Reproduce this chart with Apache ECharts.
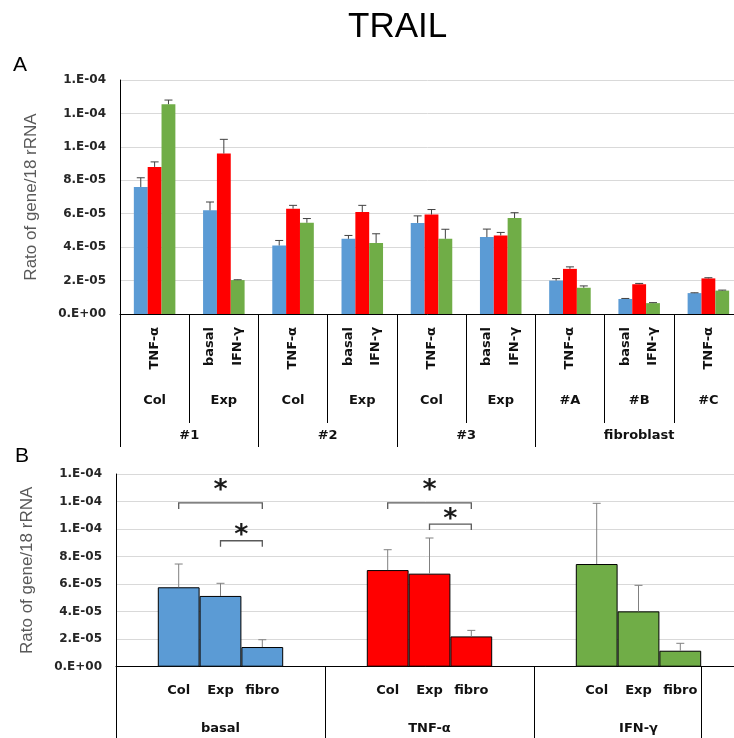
<!DOCTYPE html>
<html>
<head>
<meta charset="utf-8">
<script src="https://cdn.jsdelivr.net/npm/echarts@6/dist/echarts.min.js"></script>
<style>
  html, body { margin: 0; padding: 0; background: #fff; }
  #chart { width: 734px; height: 738px; }
</style>
</head>
<body>
<div id="chart"></div>
<script>
// ---------- Panel A: TRAIL / 18S rRNA per culture and treatment ----------
const treatmentNames = ['basal', 'TNF-α', 'IFN-γ'];
const cultureLabels = ['Col', 'Exp', 'Col', 'Exp', 'Col', 'Exp', '#A', '#B', '#C'];
const donorLabels = ['#1', '#2', '#3', 'fibroblast'];
const donorSpans = [2, 2, 2, 3]; // cultures belonging to each donor

const basalA = [7.6e-5, 6.2e-5, 4.1e-5, 4.5e-5, 5.45e-5, 4.6e-5, 2.0e-5, 0.9e-5, 1.25e-5];
const tnfA   = [8.8e-5, 9.6e-5, 6.3e-5, 6.1e-5, 5.95e-5, 4.7e-5, 2.7e-5, 1.78e-5, 2.13e-5];
const ifnA   = [1.255e-4, 2.03e-5, 5.46e-5, 4.25e-5, 4.5e-5, 5.74e-5, 1.57e-5, 0.65e-5, 1.4e-5];
const basalSdA = [0.55e-5, 0.5e-5, 0.3e-5, 0.2e-5, 0.42e-5, 0.48e-5, 0.12e-5, 0.03e-5, 0.02e-5];
const tnfSdA   = [0.3e-5, 0.85e-5, 0.2e-5, 0.4e-5, 0.3e-5, 0.18e-5, 0.12e-5, 0.05e-5, 0.04e-5];
const ifnSdA   = [0.25e-5, 0.02e-5, 0.25e-5, 0.55e-5, 0.57e-5, 0.32e-5, 0.11e-5, 0.03e-5, 0.03e-5];

// ---------- Panel B: pooled by treatment and cell source ----------
const conditionLabels = ['basal', 'TNF-α', 'IFN-γ'];
const sourceLabels = ['Col', 'Exp', 'fibro'];
const colB   = [5.77e-5, 7.02e-5, 7.46e-5];
const expB   = [5.14e-5, 6.76e-5, 4.02e-5];
const fibroB = [1.43e-5, 2.2e-5, 1.16e-5];
const colSdB   = [1.69e-5, 1.48e-5, 4.41e-5];
const expSdB   = [0.92e-5, 2.59e-5, 1.89e-5];
const fibroSdB = [0.53e-5, 0.44e-5, 0.54e-5];
// [condition, first source, second source, bracket height, asterisk height]
const significance = [
  [0, 0, 2, 1.19e-4, 1.298e-4],
  [0, 1, 2, 9.15e-5, 9.71e-5],
  [1, 0, 2, 1.19e-4, 1.298e-4],
  [1, 1, 2, 1.036e-4, 1.088e-4]
];

const yMax = 1.4e-4;
const yStep = 2e-5;

// ---------- styling ----------
const BLUE = '#5b9bd5', RED = '#ff0000', GREEN = '#70ad47';
const BAR_FRAC = 0.2;              // each bar takes 20% of a category band
const LABEL_FONT = 'DejaVu Sans';
const catText = { fontFamily: LABEL_FONT, fontWeight: 'bold', fontSize: 13, color: '#111' };

function excelExp(v) {
  if (v === 0) return '0.E+00';
  let e = Math.floor(Math.log10(v) + 1e-9);
  let m = Math.round(v / Math.pow(10, e));
  if (m === 10) { m = 1; e += 1; }
  const a = Math.abs(e);
  return m + '.E' + (e < 0 ? '-' : '+') + (a < 10 ? '0' + a : a);
}

function lookup(positions, texts) {
  return function (v) {
    for (let i = 0; i < positions.length; i++) {
      if (Math.abs(positions[i] - v) < 1e-6) return texts[i];
    }
    return '';
  };
}

// rotated treatment labels under panel A: every other slot is labelled
const subPos = [], subText = [];
for (let k = 0; k < cultureLabels.length * 3; k++) {
  if (k % 2 === 1) {
    const g = Math.floor(k / 3), s = k % 3;
    subPos.push(g + 0.5 + (s - 1) * BAR_FRAC);
    subText.push(treatmentNames[s]);
  }
}
// donor spans -> centres and boundaries
const donorCentres = [], donorBounds = [0];
let acc = 0;
donorSpans.forEach(function (n) { donorCentres.push(acc + n / 2); acc += n; donorBounds.push(acc); });

// source labels under every bar of panel B
const srcPos = [], srcText = [];
conditionLabels.forEach(function (c, g) {
  sourceLabels.forEach(function (s, j) { srcPos.push(g + 0.5 + (j - 1) * BAR_FRAC); srcText.push(s); });
});
const lastBarEdge = [conditionLabels.length - 1 + 0.5 + 1.5 * BAR_FRAC];

function errorBars(color, cap) {
  return function (params, api) {
    const cat = api.value(0), val = api.value(1), sd = api.value(2), slot = api.value(3);
    const base = api.coord([cat, val]);
    const top = api.coord([cat, val + sd]);
    const bw = api.size([1, 0])[0];
    const x = base[0] + (slot - 1) * BAR_FRAC * bw;
    return {
      type: 'group',
      children: [
        { type: 'line', shape: { x1: x, y1: base[1], x2: x, y2: top[1] }, style: { stroke: color, lineWidth: 1 } },
        { type: 'line', shape: { x1: x - cap, y1: top[1], x2: x + cap, y2: top[1] }, style: { stroke: color, lineWidth: 1 } }
      ]
    };
  };
}

function errorData(values, sds, slot) {
  return values.map(function (v, i) { return [i, v, sds[i], slot]; });
}

function bracketRender(params, api) {
  const g = api.value(0), from = api.value(1), to = api.value(2), lvl = api.value(3), star = api.value(4);
  const c = api.coord([g, lvl]);
  const s = api.coord([g, star]);
  const bw = api.size([1, 0])[0];
  const x1 = c[0] + (from - 1) * BAR_FRAC * bw;
  const x2 = c[0] + (to - 1) * BAR_FRAC * bw;
  const y = c[1];
  return {
    type: 'group',
    children: [
      { type: 'polyline', shape: { points: [[x1, y + 6], [x1, y], [x2, y], [x2, y + 6]] },
        style: { stroke: '#595959', lineWidth: 1.3, fill: null } },
      { type: 'text', style: { text: '*', x: (x1 + x2) / 2, y: s[1] + 3, align: 'center', verticalAlign: 'middle',
        font: 'bold 27px "DejaVu Sans"', fill: '#1a1a1a' } }
    ]
  };
}

const yAxisCommon = {
  type: 'value', min: 0, max: yMax, interval: yStep,
  axisLine: { show: true, lineStyle: { color: '#000', width: 1 } },
  axisTick: { show: false },
  splitLine: { show: true, lineStyle: { color: '#d9d9d9', width: 1 } },
  axisLabel: { formatter: excelExp, margin: 14, fontFamily: LABEL_FONT, fontWeight: 'bold', fontSize: 12, color: '#262626' },
  name: 'Rato of gene/18 rRNA', nameLocation: 'middle', nameGap: 80,
  nameTextStyle: { fontFamily: 'Liberation Sans', fontSize: 17, color: '#595959' }
};

const option = {
  backgroundColor: '#fff',
  animation: false,
  title: [
    { text: 'TRAIL', left: 348, top: 10, padding: 0,
      textStyle: { fontFamily: 'Liberation Sans', fontSize: 35, fontWeight: 'normal', color: '#000' } },
    { text: 'A', left: 13, top: 55, padding: 0,
      textStyle: { fontFamily: 'Liberation Sans', fontSize: 21, fontWeight: 'normal', color: '#000' } },
    { text: 'B', left: 15, top: 446, padding: 0,
      textStyle: { fontFamily: 'Liberation Sans', fontSize: 21, fontWeight: 'normal', color: '#000' } }
  ],
  grid: [
    { left: 120, top: 80, width: 623, height: 234, outerBoundsMode: 'none' },
    { left: 116, top: 474, width: 627, height: 192.7, outerBoundsMode: 'none' }
  ],
  xAxis: [
    { // 0: panel A bars, culture row
      type: 'category', gridIndex: 0, position: 'bottom', data: cultureLabels,
      axisLine: { show: true, lineStyle: { color: '#000', width: 1 } },
      axisTick: { show: true, interval: 0, length: 109, lineStyle: { color: '#000', width: 1 } },
      axisLabel: Object.assign({ interval: 0, margin: 80 }, catText),
      splitLine: { show: false }
    },
    { // 1: panel A rotated treatment row
      type: 'value', gridIndex: 0, position: 'bottom', min: 0, max: cultureLabels.length,
      axisLine: { show: false }, axisTick: { show: false }, splitLine: { show: false },
      axisLabel: Object.assign({ customValues: subPos, formatter: lookup(subPos, subText), rotate: 90, margin: 13 }, catText)
    },
    { // 2: panel A donor row
      type: 'value', gridIndex: 0, position: 'bottom', min: 0, max: cultureLabels.length,
      axisLine: { show: false }, splitLine: { show: false },
      axisTick: { show: true, customValues: donorBounds, length: 133, lineStyle: { color: '#000', width: 1 } },
      axisLabel: Object.assign({ customValues: donorCentres, formatter: lookup(donorCentres, donorLabels), margin: 115 }, catText)
    },
    { // 3: panel B bars, condition row
      type: 'category', gridIndex: 1, position: 'bottom', data: conditionLabels,
      axisLine: { show: true, lineStyle: { color: '#000', width: 1 } },
      axisTick: { show: true, interval: 0, length: 75, lineStyle: { color: '#000', width: 1 } },
      axisLabel: Object.assign({ interval: 0, margin: 55 }, catText),
      splitLine: { show: false }
    },
    { // 4: panel B source row
      type: 'value', gridIndex: 1, position: 'bottom', min: 0, max: conditionLabels.length,
      axisLine: { show: false }, splitLine: { show: false },
      axisTick: { show: true, customValues: lastBarEdge, length: 75, lineStyle: { color: '#000', width: 1 } },
      axisLabel: Object.assign({ customValues: srcPos, formatter: lookup(srcPos, srcText), margin: 17 }, catText)
    }
  ],
  yAxis: [
    Object.assign({ gridIndex: 0 }, yAxisCommon),
    Object.assign({ gridIndex: 1 }, yAxisCommon)
  ],
  series: [
    { type: 'bar', name: treatmentNames[0], xAxisIndex: 0, yAxisIndex: 0, data: basalA, barGap: '0%', barCategoryGap: '40%', itemStyle: { color: BLUE }, z: 2 },
    { type: 'bar', name: treatmentNames[1], xAxisIndex: 0, yAxisIndex: 0, data: tnfA, barGap: '0%', barCategoryGap: '40%', itemStyle: { color: RED }, z: 2 },
    { type: 'bar', name: treatmentNames[2], xAxisIndex: 0, yAxisIndex: 0, data: ifnA, barGap: '0%', barCategoryGap: '40%', itemStyle: { color: GREEN }, z: 2 },
    { type: 'custom', xAxisIndex: 0, yAxisIndex: 0, renderItem: errorBars('#404040', 4), data: errorData(basalA, basalSdA, 0), encode: { x: 0, y: 1 }, z: 3 },
    { type: 'custom', xAxisIndex: 0, yAxisIndex: 0, renderItem: errorBars('#404040', 4), data: errorData(tnfA, tnfSdA, 1), encode: { x: 0, y: 1 }, z: 3 },
    { type: 'custom', xAxisIndex: 0, yAxisIndex: 0, renderItem: errorBars('#404040', 4), data: errorData(ifnA, ifnSdA, 2), encode: { x: 0, y: 1 }, z: 3 },

    { type: 'bar', name: sourceLabels[0], xAxisIndex: 3, yAxisIndex: 1, data: colB, barGap: '0%', barCategoryGap: '40%',
      itemStyle: { color: function (p) { return [BLUE, RED, GREEN][p.dataIndex]; }, borderColor: '#000', borderWidth: 1 }, z: 2 },
    { type: 'bar', name: sourceLabels[1], xAxisIndex: 3, yAxisIndex: 1, data: expB, barGap: '0%', barCategoryGap: '40%',
      itemStyle: { color: function (p) { return [BLUE, RED, GREEN][p.dataIndex]; }, borderColor: '#000', borderWidth: 1 }, z: 2 },
    { type: 'bar', name: sourceLabels[2], xAxisIndex: 3, yAxisIndex: 1, data: fibroB, barGap: '0%', barCategoryGap: '40%',
      itemStyle: { color: function (p) { return [BLUE, RED, GREEN][p.dataIndex]; }, borderColor: '#000', borderWidth: 1 }, z: 2 },
    { type: 'custom', xAxisIndex: 3, yAxisIndex: 1, renderItem: errorBars('#808080', 4), data: errorData(colB, colSdB, 0), encode: { x: 0, y: 1 }, z: 3 },
    { type: 'custom', xAxisIndex: 3, yAxisIndex: 1, renderItem: errorBars('#808080', 4), data: errorData(expB, expSdB, 1), encode: { x: 0, y: 1 }, z: 3 },
    { type: 'custom', xAxisIndex: 3, yAxisIndex: 1, renderItem: errorBars('#808080', 4), data: errorData(fibroB, fibroSdB, 2), encode: { x: 0, y: 1 }, z: 3 },
    { type: 'custom', xAxisIndex: 3, yAxisIndex: 1, renderItem: bracketRender, data: significance, encode: { x: 0, y: 3 }, z: 4 }
  ]
};

const chart = echarts.init(document.getElementById('chart'), null, { renderer: 'canvas' });
chart.setOption(option);
</script>
</body>
</html>
